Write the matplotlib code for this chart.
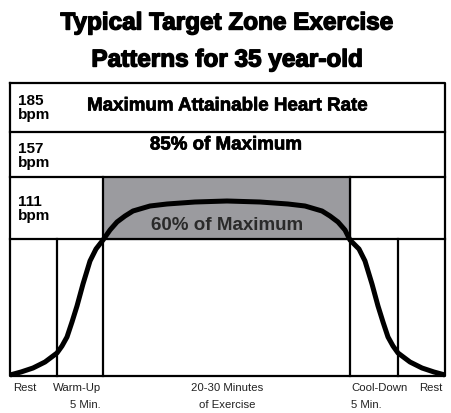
import matplotlib.pyplot as plt
import matplotlib.patheffects as pe

# Zone labels (top to bottom)
zone_bpm = ["185\nbpm", "157\nbpm", "111\nbpm"]
zone_names = ["Maximum Attainable Heart Rate", "85% of Maximum", "60% of Maximum"]

# Phase labels along the bottom
phase_top = ["Rest", "Warm-Up", "20-30 Minutes", "Cool-Down", "Rest"]
phase_bottom = ["", "5 Min.", "of Exercise", "5 Min.", ""]

# Heart-rate curve (diagram pixel units)
curve_x = [10, 21, 33, 45, 57, 62, 67, 72, 77, 83, 90, 96, 103, 110, 117, 125, 133,
           150, 167, 195, 227, 260, 288, 305, 322, 330, 338, 345, 350, 359, 365,
           372, 378, 383, 388, 393, 398, 410, 422, 434, 445]
curve_y = [376, 373, 369, 363, 354, 347, 338, 323, 307, 285, 262, 250, 241, 231, 223,
           217, 212, 207, 205, 203, 202, 203, 205, 207, 212, 217, 223, 231, 241, 250,
           262, 285, 307, 323, 338, 347, 354, 363, 369, 373, 376]

# Layout
left, right = 10, 445
row_y = [84, 133, 178, 240, 377]
phase_x = [10, 57, 103, 350, 398, 445]
font = "Liberation Sans"

fig = plt.figure(figsize=(4.51, 4.14), dpi=100)
ax = fig.add_axes([0, 0, 1, 1])
ax.set_xlim(0, 451)
ax.set_ylim(414, 0)
ax.axis("off")

lw = 1.6
# shaded target zone
ax.fill_between([phase_x[2], phase_x[3]], row_y[2], row_y[3], color="#9b9b9f", zorder=1)

# outer frame and row lines
ax.plot([left, right, right, left, left], [row_y[0], row_y[0], row_y[-1], row_y[-1], row_y[0]],
        color="black", lw=lw, zorder=3)
for y in row_y[1:4]:
    ax.plot([left, right], [y, y], color="black", lw=lw, zorder=3)

# vertical phase lines
for x in phase_x[1:5]:
    top = row_y[2] if x in (phase_x[2], phase_x[3]) else row_y[3]
    ax.plot([x, x], [top, row_y[-1]], color="black", lw=lw, zorder=3)

# curve
ax.plot(curve_x, curve_y, color="black", lw=3.6, solid_capstyle="butt", zorder=4)

heavy = [pe.withStroke(linewidth=1.0, foreground="black")]
semi = [pe.withStroke(linewidth=0.5, foreground="black")]

# title
ax.text(227, 24, "Typical Target Zone Exercise", ha="center", va="center",
        fontsize=17.5, fontweight="bold", family=font, path_effects=heavy)
ax.text(227, 61, "Patterns for 35 year-old", ha="center", va="center",
        fontsize=17.5, fontweight="bold", family=font, path_effects=heavy)

# zone labels
bpm_y = [108, 156, 209]
for lab, y in zip(zone_bpm, bpm_y):
    ax.text(18, y, lab, ha="left", va="center", fontsize=11, fontweight="bold",
            family=font, linespacing=0.95)
name_pos = [(227, 107, "black", semi), (226, 146, "black", semi), (227, 226, "#2a2a2a", None)]
for lab, (x, y, c, eff) in zip(zone_names, name_pos):
    ax.text(x, y, lab, ha="center", va="center", fontsize=13.5, fontweight="bold",
            family=font, color=c, zorder=5, path_effects=eff)

# phase labels
top_pos = [(13, "left"), (53, "left"), (227, "center"), (351, "left"), (443, "right")]
bot_pos = [(0, "left"), (85, "center"), (227, "center"), (351, "left"), (0, "left")]
for lab, (x, ha) in zip(phase_top, top_pos):
    ax.text(x, 388, lab, ha=ha, va="center", fontsize=8.2, family=font, color="#222222")
for lab, (x, ha) in zip(phase_bottom, bot_pos):
    if lab:
        ax.text(x, 405, lab, ha=ha, va="center", fontsize=8.2, family=font, color="#222222")

fig.savefig("out.png", dpi=100)
